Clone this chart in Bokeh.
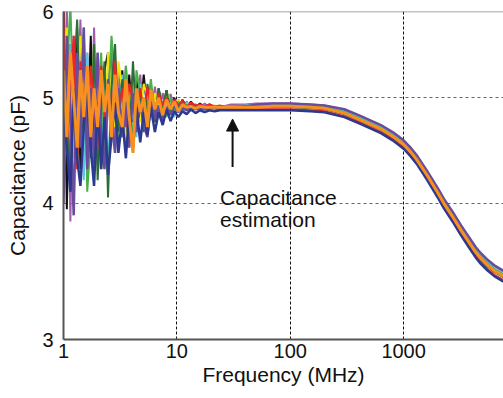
from bokeh.plotting import figure
from bokeh.models import FixedTicker, Arrow, NormalHead, Span
from bokeh.core.properties import value
from bokeh.embed import file_html
from bokeh.resources import INLINE

# Frequencies (MHz)
freq_low = [1.0, 1.07, 1.15, 1.23, 1.32, 1.41, 1.51, 1.62, 1.74, 1.86,
            2.0, 2.15, 2.3, 2.47, 2.65, 2.85, 3.05, 3.3, 3.55, 3.8,
            4.1, 4.4, 4.75, 5.1, 5.5, 5.9, 6.4, 6.9, 7.5, 8.1,
            8.8, 9.5, 10.3, 11.2, 12.2, 13.3, 14.6, 16, 17.6, 19.4,
            21.5, 24]
freq_high = [30, 40, 50, 70, 100, 150, 200, 300, 420, 630, 800, 1000, 1150,
             1300, 1620, 2000, 2260, 2700, 3200, 3800, 4300, 4800, 5500, 6300,
             7600]

# Capacitance (pF) per measurement: noisy low-frequency part and smooth part
black_low = [6.2, 3.95, 5.6, 4.4, 5.8, 4.3, 5.5, 4.6, 5.7, 4.5,
             5.4, 4.5, 5.3, 5.5, 4.6, 5.35, 4.65, 5.3, 4.7, 5.25,
             4.75, 5.2, 4.8, 5.25, 4.85, 5.1, 4.8, 5.1, 4.88, 5.08,
             4.88, 5.0, 4.86, 4.98, 4.9, 4.96, 4.9, 4.94, 4.9, 4.93,
             4.9, 4.91]
black_high = [4.91, 4.90, 4.91, 4.91, 4.91, 4.90, 4.89, 4.84, 4.77, 4.68, 4.61,
              4.53, 4.46, 4.39, 4.24, 4.09, 4.00, 3.89, 3.78, 3.68, 3.61, 3.56,
              3.51, 3.47, 3.43]

lpurple_low = [4.3, 6.1, 3.85, 5.7, 4.9, 5.9, 4.3, 5.5, 4.4, 5.8,
               4.45, 5.4, 4.6, 5.2, 5.5, 4.5, 5.3, 4.6, 5.35, 4.7,
               5.2, 4.7, 5.25, 4.8, 5.1, 4.78, 5.12, 4.82, 5.05, 4.85,
               5.04, 4.88, 4.98, 4.89, 4.96, 4.88, 4.93, 4.9, 4.94, 4.9,
               4.91, 4.9]
lpurple_high = [4.93, 4.93, 4.94, 4.94, 4.94, 4.93, 4.92, 4.87, 4.80, 4.71, 4.64,
                4.56, 4.49, 4.42, 4.27, 4.12, 4.03, 3.92, 3.81, 3.71, 3.64, 3.59,
                3.54, 3.50, 3.46]

cyan_low = [4.2, 4.9, 5.6, 4.4, 5.3, 5.0, 4.2, 5.5, 4.9, 4.3,
            5.5, 4.5, 5.2, 4.3, 5.0, 5.4, 4.7, 5.25, 4.5, 5.1,
            4.8, 4.6, 5.15, 4.85, 4.65, 5.1, 4.75, 5.0, 4.8, 5.05,
            4.88, 4.8, 4.98, 4.86, 4.95, 4.86, 4.93, 4.9, 4.88, 4.92,
            4.89, 4.9]
cyan_high = [4.91, 4.92, 4.93, 4.93, 4.93, 4.92, 4.91, 4.86, 4.79, 4.70, 4.63,
             4.55, 4.48, 4.41, 4.26, 4.11, 4.02, 3.91, 3.80, 3.70, 3.63, 3.58,
             3.53, 3.49, 3.45]

yellow_low = [5.4, 5.8, 4.6, 4.2, 5.1, 5.7, 5.0, 4.4, 4.7, 5.6,
              5.2, 4.3, 4.6, 5.5, 5.0, 4.7, 5.4, 5.1, 4.6, 4.9,
              5.25, 4.8, 4.75, 5.15, 5.0, 4.78, 5.05, 4.95, 4.82, 5.06,
              4.96, 4.89, 4.98, 4.88, 4.94, 4.9, 4.92, 4.89, 4.91, 4.9,
              4.92, 4.9]
yellow_high = [4.90, 4.91, 4.91, 4.92, 4.91, 4.90, 4.89, 4.84, 4.77, 4.68, 4.61,
               4.53, 4.46, 4.39, 4.24, 4.09, 4.00, 3.89, 3.78, 3.68, 3.61, 3.56,
               3.51, 3.47, 3.43]

green_low = [4.4, 5.2, 6.1, 4.8, 4.3, 5.0, 5.8, 4.1, 4.6, 5.6,
             4.8, 5.5, 4.4, 4.9, 5.7, 5.2, 4.5, 4.8, 5.35, 4.9,
             4.6, 5.3, 5.05, 4.7, 4.9, 5.2, 4.82, 5.08, 4.9, 4.8,
             5.0, 4.86, 4.96, 4.9, 4.93, 4.91, 4.9, 4.92, 4.9, 4.91,
             4.9, 4.9]
green_high = [4.91, 4.91, 4.92, 4.92, 4.92, 4.91, 4.90, 4.85, 4.78, 4.69, 4.62,
              4.54, 4.47, 4.40, 4.25, 4.10, 4.01, 3.90, 3.79, 3.69, 3.62, 3.57,
              3.52, 3.48, 3.44]

dgreen_low = [5.5, 5.0, 4.1, 5.2, 5.9, 4.6, 4.8, 5.1, 4.4, 5.6,
              4.2, 4.9, 5.4, 4.05, 5.1, 5.6, 4.7, 5.2, 4.8, 4.55,
              5.4, 4.75, 5.1, 4.65, 5.15, 4.9, 4.75, 5.1, 4.88, 5.08,
              4.84, 4.98, 4.9, 4.96, 4.88, 4.94, 4.9, 4.92, 4.89, 4.92,
              4.9, 4.91]
dgreen_high = [4.89, 4.89, 4.90, 4.90, 4.90, 4.89, 4.88, 4.83, 4.76, 4.67, 4.60,
               4.52, 4.45, 4.38, 4.23, 4.08, 3.99, 3.88, 3.77, 3.67, 3.60, 3.55,
               3.50, 3.46, 3.42]

red_low = [6.0, 4.5, 5.1, 5.7, 4.3, 5.4, 4.9, 4.5, 5.35, 4.9,
           4.5, 5.35, 4.8, 5.1, 4.6, 5.4, 4.85, 5.1, 4.7, 5.15,
           4.95, 4.75, 5.1, 4.85, 5.12, 4.88, 4.8, 5.05, 4.92, 5.0,
           4.9, 4.98, 4.92, 4.97, 4.9, 4.95, 4.92, 4.93, 4.91, 4.93,
           4.91, 4.92]
red_high = [4.88, 4.88, 4.88, 4.88, 4.88, 4.87, 4.86, 4.81, 4.74, 4.65, 4.58,
            4.50, 4.43, 4.36, 4.21, 4.06, 3.97, 3.86, 3.75, 3.65, 3.58, 3.53,
            3.48, 3.44, 3.40]

dpurple_low = [4.0, 5.7, 4.8, 3.9, 5.5, 4.5, 5.8, 4.3, 5.1, 4.35,
               5.5, 4.6, 4.3, 5.2, 4.75, 4.45, 5.1, 4.6, 4.95, 4.5,
               5.05, 4.65, 4.95, 4.72, 4.6, 5.0, 4.78, 4.92, 4.76, 4.9,
               4.82, 4.92, 4.85, 4.89, 4.87, 4.9, 4.88, 4.89, 4.88, 4.89,
               4.89, 4.88]
dpurple_high = [4.90, 4.91, 4.93, 4.94, 4.94, 4.93, 4.92, 4.88, 4.81, 4.72, 4.65,
                4.57, 4.50, 4.43, 4.28, 4.13, 4.04, 3.93, 3.82, 3.72, 3.65, 3.60,
                3.55, 3.51, 3.47]

navy_low = [4.9, 4.5, 4.1, 5.1, 4.4, 4.15, 4.7, 5.2, 4.5, 4.15,
            4.95, 4.3, 4.8, 4.25, 4.6, 4.95, 4.45, 4.8, 4.4, 4.85,
            4.5, 4.9, 4.55, 4.85, 4.62, 4.9, 4.65, 4.85, 4.72, 4.88,
            4.76, 4.86, 4.8, 4.86, 4.83, 4.88, 4.84, 4.87, 4.85, 4.87,
            4.86, 4.87]
navy_high = [4.87, 4.87, 4.87, 4.87, 4.87, 4.86, 4.85, 4.80, 4.73, 4.64, 4.57,
             4.49, 4.42, 4.35, 4.20, 4.05, 3.96, 3.85, 3.74, 3.64, 3.57, 3.52,
             3.47, 3.43, 3.39]

orange_low = [5.3, 4.6, 5.5, 5.0, 4.5, 5.3, 4.8, 5.35, 4.6, 5.1,
              4.7, 5.3, 4.85, 5.15, 4.6, 5.25, 4.85, 4.7, 5.2, 4.8,
              4.45, 5.1, 4.85, 5.0, 4.7, 5.08, 4.88, 5.0, 4.82, 4.98,
              4.88, 4.96, 4.86, 4.93, 4.9, 4.91, 4.89, 4.91, 4.9, 4.9,
              4.9, 4.9]
orange_high = [4.90, 4.90, 4.90, 4.91, 4.91, 4.90, 4.89, 4.84, 4.77, 4.68, 4.61,
               4.53, 4.46, 4.39, 4.24, 4.09, 4.00, 3.89, 3.78, 3.68, 3.61, 3.56,
               3.51, 3.47, 3.43]

series = [
    ("#111111", black_low, black_high, 2),
    ("#a15ea8", lpurple_low, lpurple_high, 2),
    ("#5bc8e0", cyan_low, cyan_high, 2),
    ("#f2e600", yellow_low, yellow_high, 2),
    ("#4cae4c", green_low, green_high, 2),
    ("#2e6b3a", dgreen_low, dgreen_high, 2),
    ("#e8262a", red_low, red_high, 2),
    ("#6a4c9c", dpurple_low, dpurple_high, 2.5),
    ("#2b3990", navy_low, navy_high, 2.5),
    ("#f7901e", orange_low, orange_high, 3),
]

x_ticks = [1, 10, 100, 1000]
y_ticks = [3, 4, 5, 6]

FONT = "Liberation Sans"

p = figure(width=503, height=398,
           x_axis_type="log", y_axis_type="log",
           x_range=(1, 7600), y_range=(3, 6),
           output_backend="svg", toolbar_location=None,
           min_border_left=63, min_border_right=0, min_border_top=11,
           min_border_bottom=59)

freqs = freq_low + freq_high
for color, lo, hi, lw in series:
    p.line(freqs, lo + hi, line_color=color, line_width=lw)

# axes
p.xaxis.ticker = FixedTicker(ticks=x_ticks)
p.yaxis.ticker = FixedTicker(ticks=y_ticks)
p.xaxis.major_label_overrides = {t: str(t) for t in x_ticks}
p.yaxis.major_label_overrides = {t: str(t) for t in y_ticks}
p.xaxis.axis_label = "Frequency (MHz)"
p.yaxis.axis_label = "Capacitance (pF)"
for ax in (p.xaxis, p.yaxis):
    ax.axis_label_text_font = FONT
    ax.axis_label_text_font_size = "21px"
    ax.axis_label_text_font_style = "normal"
    ax.axis_label_text_color = "#111111"
    ax.major_label_text_font = FONT
    ax.major_label_text_font_size = "20px"
    ax.major_label_text_color = "#111111"
    ax.major_tick_line_color = None
    ax.minor_tick_line_color = None
    ax.major_tick_out = 0
    ax.minor_tick_out = 0
    ax.major_tick_in = 0
    ax.minor_tick_in = 0
    ax.axis_line_color = "#555555"
    ax.axis_line_width = 2
p.yaxis.axis_label_standoff = 10
p.yaxis.major_label_standoff = 10
p.xaxis.major_label_standoff = 4
p.xaxis.axis_label_standoff = 2

p.xgrid.grid_line_color = "#111111"
p.xgrid.grid_line_dash = "3 2"
p.xgrid.grid_line_width = 1
p.ygrid.grid_line_color = "#666666"
p.ygrid.grid_line_dash = "3 3"
p.ygrid.grid_line_width = 1
p.outline_line_color = None
p.add_layout(Span(location=6, dimension="width", line_color="#888888",
                  line_width=1.5))

# annotation
p.add_layout(Arrow(end=NormalHead(size=12, fill_color="#111111", line_color="#111111"),
                   x_start=31, y_start=4.32, x_end=31, y_end=4.78,
                   line_color="#111111", line_width=2))
p.text(x=[24], y=[4.05], text=["Capacitance"], text_font=value(FONT),
       text_font_size="21px", text_color="#111111", text_baseline="alphabetic")
p.text(x=[24], y=[3.87], text=["estimation"], text_font=value(FONT),
       text_font_size="21px", text_color="#111111", text_baseline="alphabetic")

open("out.html", "w").write(file_html(p, INLINE))
